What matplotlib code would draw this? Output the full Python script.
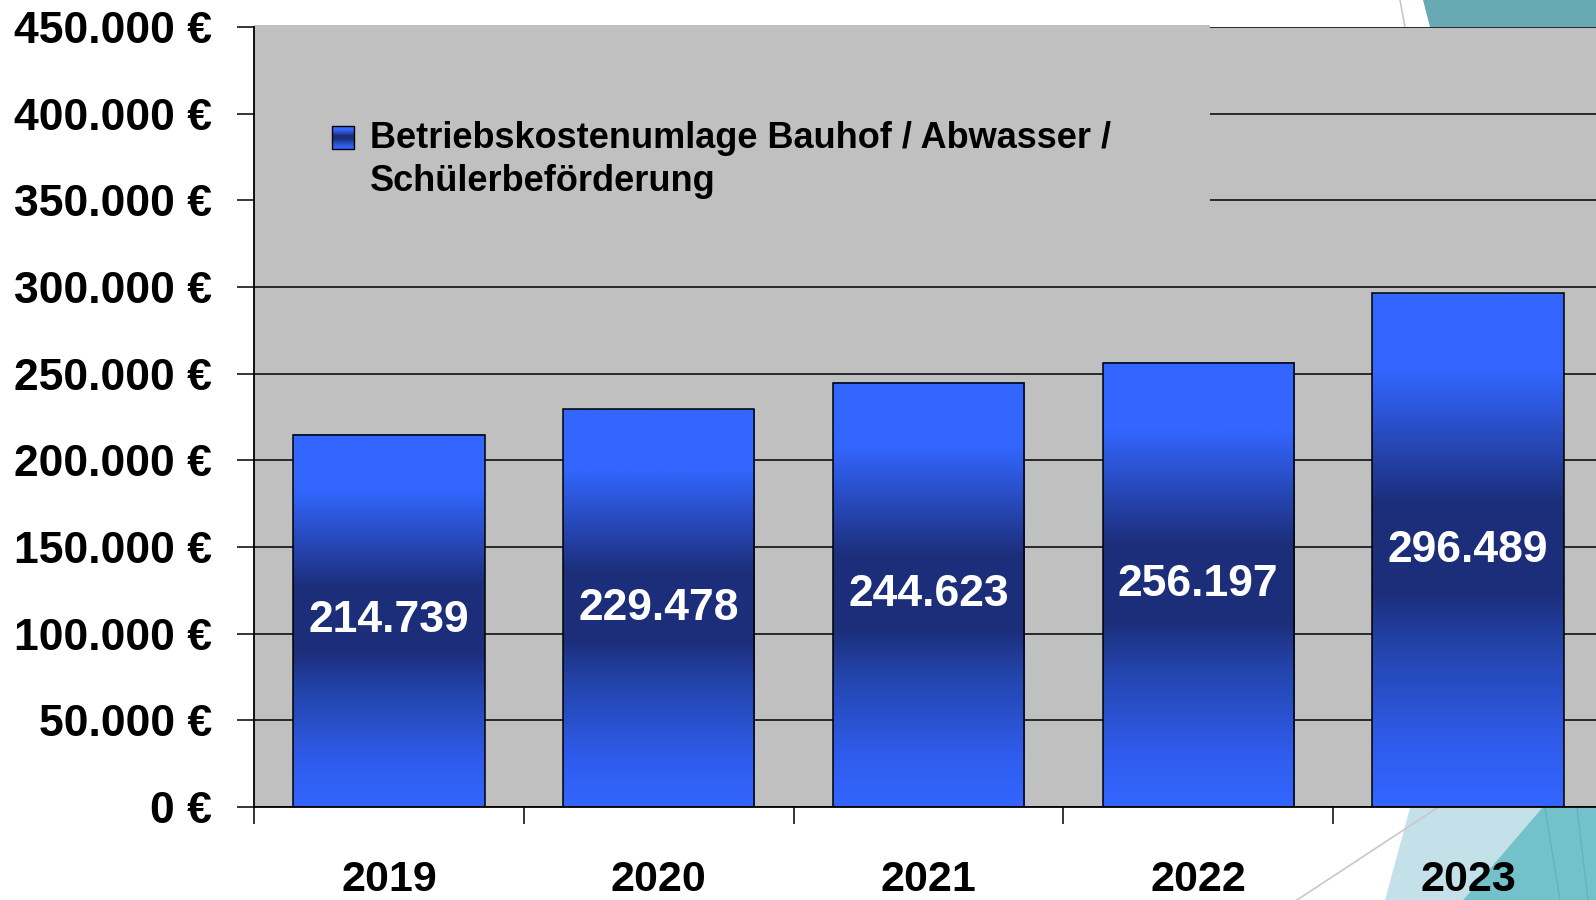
import numpy as np
import matplotlib
matplotlib.use('Agg')
import matplotlib.pyplot as plt
from matplotlib.colors import LinearSegmentedColormap
from matplotlib.patches import Rectangle, Polygon
from matplotlib.legend_handler import HandlerBase
from matplotlib.lines import Line2D

# data
years = ['2019', '2020', '2021', '2022', '2023']
values = [214739, 229478, 244623, 256197, 296489]
y_ticks = [0, 50000, 100000, 150000, 200000, 250000, 300000, 350000, 400000, 450000]
series_label = 'Betriebskostenumlage Bauhof / Abwasser /\nSchülerbeförderung'

plt.rcParams['font.family'] = ['Liberation Sans', 'DejaVu Sans']
plt.rcParams['font.weight'] = 'bold'

W, H = 1596, 900
PLOT_BG = '#c0c0c0'

# vertical gradient of the bars (0 = bottom, 1 = top)
bar_cmap = LinearSegmentedColormap.from_list('bar', [
    (0.0, '#3366ff'), (0.12, '#2f5cec'), (0.30, '#2446b0'), (0.42, '#1c2e7a'),
    (0.59, '#1c2e7a'), (0.85, '#3366ff'), (1.0, '#3366ff')])


def dots(v):
    return f'{v:,.0f}'.replace(',', '.')


def fig_poly(pts):
    # slide decoration, given in pixels from the top-left corner
    return [(px / W, 1 - py / H) for px, py in pts]


class GradientHandler(HandlerBase):
    # small gradient square, lifted to sit next to the first label line
    def create_artists(self, legend, orig_handle, xdescent, ydescent,
                       width, height, fontsize, trans):
        lift = 0.66 * fontsize
        n = 24
        out = []
        for i in range(n):
            out.append(Rectangle((-xdescent, -ydescent + lift + i * height / n), width, height / n,
                                 facecolor=bar_cmap((i + 0.5) / n), edgecolor='none',
                                 transform=trans))
        out.append(Rectangle((-xdescent, -ydescent + lift), width, height, facecolor='none',
                             edgecolor='black', linewidth=1.0, transform=trans))
        return out


fig = plt.figure(figsize=(W / 100, H / 100), dpi=100)
fig.patch.set_facecolor('white')

# background shapes of the slide (kept behind the axes)
deco = dict(transform=fig.transFigure, zorder=-2)
fig.patches.append(Polygon(fig_poly([(1423, 0), (1596, 0), (1596, 27), (1430, 27)]),
                           closed=True, facecolor='#68aab3', edgecolor='none', **deco))
fig.patches.append(Polygon(fig_poly([(1410, 808), (1542, 808), (1463, 900), (1385, 900)]),
                           closed=True, facecolor='#c4e0e8', edgecolor='none', **deco))
fig.patches.append(Polygon(fig_poly([(1542, 808), (1596, 808), (1596, 900), (1463, 900)]),
                           closed=True, facecolor='#73c1ca', edgecolor='none', **deco))
deco['zorder'] = -1
fig.lines.append(Line2D([1400 / W, 1405 / W], [1, 1 - 27 / H], color='#c8c8c8',
                        linewidth=1.2, **deco))
fig.lines.append(Line2D([1437 / W, 1297 / W], [1 - 808 / H, 0], color='#c8c8c8',
                        linewidth=1.2, **deco))
fig.lines.append(Line2D([1545 / W, 1560 / W], [1 - 808 / H, 0], color='#66b3bd',
                        linewidth=1.0, **deco))
fig.lines.append(Line2D([1577 / W, 1588 / W], [1 - 808 / H, 0], color='#66b3bd',
                        linewidth=1.0, **deco))

ax = fig.add_axes([254 / W, 93 / H, 1349 / W, 780 / H])
ax.set_zorder(1)
ax.set_facecolor(PLOT_BG)

x = np.arange(len(years))
bars = ax.bar(x, values, width=0.71, color='none', edgecolor='black',
              linewidth=1.1, zorder=3)
grad = np.linspace(0, 1, 256).reshape(-1, 1)
for b, v in zip(bars, values):
    ax.imshow(grad, cmap=bar_cmap, origin='lower', aspect='auto', zorder=2,
              extent=[b.get_x(), b.get_x() + b.get_width(), 0, v])
    ax.text(b.get_x() + b.get_width() / 2, v / 2, dots(v), ha='center', va='center',
            color='white', fontsize=32, fontweight='bold', zorder=4)

ax.set_xlim(-0.5, len(years) - 0.5)
ax.set_ylim(0, 450000)
ax.set_yticks(y_ticks)
ax.set_yticklabels([dots(v) + ' €' for v in y_ticks])
ax.set_xticks(x)
ax.set_xticklabels(years)
ax.set_xticks(np.arange(len(years) + 1) - 0.5, minor=True)

ax.yaxis.grid(True, color='black', linewidth=1.1)
ax.set_axisbelow(True)
for s in ['top', 'right']:
    ax.spines[s].set_visible(False)
for s in ['left', 'bottom']:
    ax.spines[s].set_linewidth(1.3)
    ax.spines[s].set_zorder(5)

ax.tick_params(axis='y', length=12, width=1.1, pad=18, labelsize=32)
ax.tick_params(axis='x', which='major', length=0, pad=38, labelsize=31)
ax.tick_params(axis='x', which='minor', length=12, width=1.1)

# legend area hides the grid lines
ax.add_patch(Rectangle((0, 0.73), 0.709, 0.273, transform=ax.transAxes,
                       facecolor=PLOT_BG, edgecolor='none', zorder=1.5, clip_on=False))
proxy = Rectangle((0, 0), 1, 1)
leg = ax.legend([proxy], [series_label], handler_map={Rectangle: GradientHandler()},
                loc='upper left', bbox_to_anchor=(0.0578, 0.879), frameon=False,
                prop={'weight': 'bold', 'size': 26}, handlelength=0.6, handleheight=0.6,
                handletextpad=0.45, borderpad=0, borderaxespad=0)
leg.get_texts()[0].set_linespacing(1.3)

fig.savefig('out.png', dpi=100)
